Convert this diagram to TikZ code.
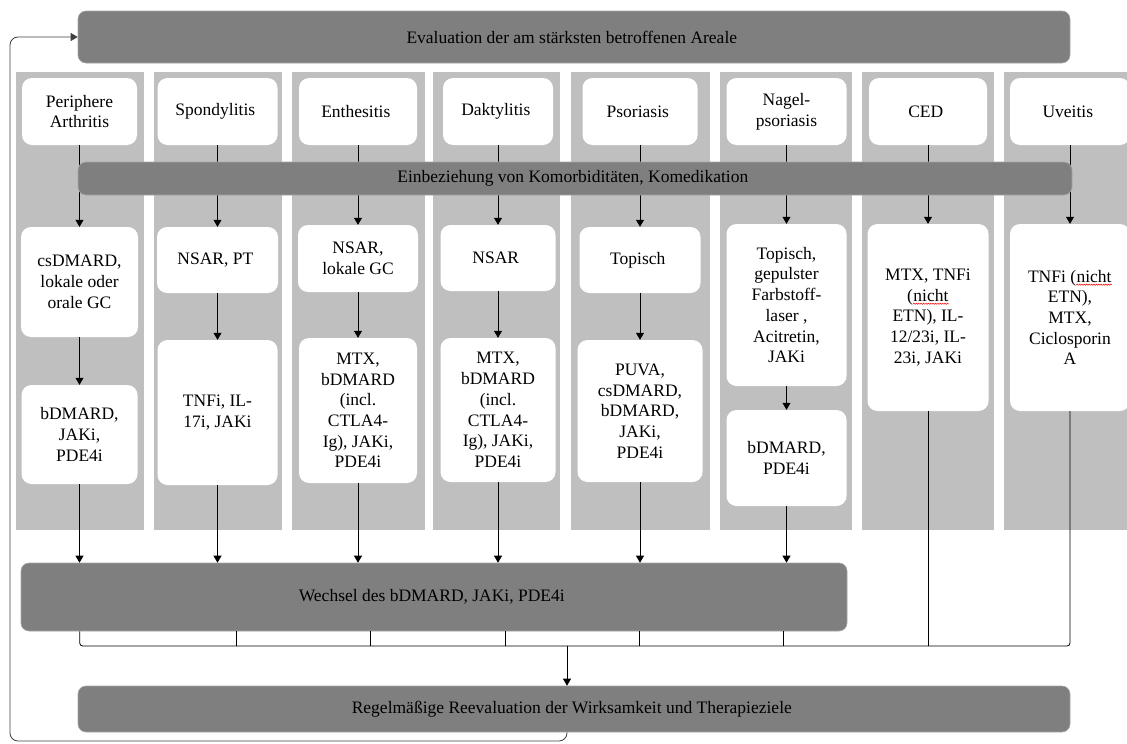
\documentclass[tikz,border=0pt]{standalone}
\usepackage{fontspec}
\setmainfont{Liberation Serif}
\usetikzlibrary{arrows.meta,calc,decorations.pathmorphing}

\definecolor{laneGray}{HTML}{BFBFBF}
\definecolor{barGray}{HTML}{7F7F7F}
\definecolor{edgeGray}{HTML}{A6A6A6}
\def\boxradius{10pt}
\def\barradius{8pt}
\def\laneheight{458pt}
\def\topicheight{67pt}
\newcommand{\spellmark}[1]{\tikz[baseline=(word.base), sharp corners]{%
    \node (word) [inner sep=0pt, minimum width=0pt, minimum height=0pt,%
        fill=none, draw=none, sharp corners] {#1};%
    \draw [red, line width=0.5pt, fill=none, sharp corners, decorate,%
        decoration={snake, amplitude=0.6pt, segment length=2.4pt}]%
        ([yshift=-2.5pt]word.base west) -- ([yshift=-2.5pt]word.base east);}}

\begin{document}
\begin{tikzpicture}[
            x=1pt, y=-1pt,
            font=\fontsize{17.5}{20.7}\selectfont,
            lane/.style={%
                rectangle, fill=laneGray, draw=none, inner sep=0pt,%
                minimum height=\laneheight%
            },
            topic/.style={%
                rectangle, rounded corners=\boxradius, fill=white, draw=none,%
                inner sep=0pt, align=center, minimum height=\topicheight%
            },
            therapy/.style={%
                rectangle, rounded corners=\boxradius, fill=white, draw=none,%
                inner sep=0pt, align=center%
            },
            banner/.style={%
                rectangle, rounded corners=\barradius, fill=barGray,%
                draw=edgeGray, line width=0.6pt, inner sep=0pt, align=center%
            },
            arrow/.style={line width=0.8pt,-{Triangle[width=8pt,length=7pt]}},
            link/.style={line width=0.8pt}
        ]

        \useasboundingbox (0,0) rectangle (1127,744);

        % Lanes
        \node (lane_1) [lane, minimum width=128pt] at (80,301) {};
        \node (lane_2) [lane, minimum width=128pt] at (218,301) {};
        \node (lane_3) [lane, minimum width=133pt] at (358.5,301) {};
        \node (lane_4) [lane, minimum width=127pt] at (496.5,301) {};
        \node (lane_5) [lane, minimum width=139pt] at (640.5,301) {};
        \node (lane_6) [lane, minimum width=132pt] at (786,301) {};
        \node (lane_7) [lane, minimum width=132pt] at (928,301) {};
        \node (lane_8) [lane, minimum width=136pt] at (1072,301) {};

        % Define nodes
        \node (topic_1) [topic, minimum width=115pt] at (79.5,111.5) {%
            Periphere\\Arthritis
        };
        \node (topic_2) [topic, minimum width=120pt] at (217.5,111.5) {%
            Spondylitis
        };
        \node (topic_3) [topic, minimum width=118pt] at (358,111.5) {%
            Enthesitis
        };
        \node (topic_4) [topic, minimum width=110pt] at (498,111.5) {%
            Daktylitis
        };
        \node (topic_5) [topic, minimum width=115pt] at (640,111.5) {%
            Psoriasis
        };
        \node (topic_6) [topic, minimum width=120pt] at (786.5,111.5) {%
            Nagel-\\psoriasis
        };
        \node (topic_7) [topic, minimum width=118pt] at (928,111.5) {%
            CED
        };
        \node (topic_8) [topic, minimum width=120pt] at (1070,111.5) {%
            Uveitis
        };

        \node (first_1) [therapy, minimum width=117pt, minimum height=110pt]
            at (79.5,282) {%
            csDMARD,\\lokale oder\\orale GC
        };
        \node (first_2) [therapy, minimum width=121pt, minimum height=66pt]
            at (217.5,260) {%
            NSAR, PT
        };
        \node (first_3) [therapy, minimum width=120pt, minimum height=67pt]
            at (358,258.5) {%
            NSAR,\\lokale GC
        };
        \node (first_4) [therapy, minimum width=115pt, minimum height=66pt]
            at (498,258) {%
            NSAR
        };
        \node (first_5) [therapy, minimum width=121pt, minimum height=66pt]
            at (640,260) {%
            Topisch
        };
        \node (first_6) [therapy, minimum width=120pt, minimum height=162pt]
            at (786.5,305) {%
            Topisch,\\gepulster\\Farbstoff-\\laser ,\\Acitretin,\\JAKi
        };
        \node (first_7) [therapy, minimum width=121pt, minimum height=187pt]
            at (928,317.5) {%
            MTX, TNFi\\(\spellmark{nicht}\\ETN), IL-\\12/23i, IL-\\23i, JAKi
        };
        \node (first_8) [therapy, minimum width=120pt, minimum height=187pt]
            at (1070,317.5) {%
            TNFi (\spellmark{nicht}\\ETN),\\MTX,\\Ciclosporin\\A
        };

        \node (second_1) [therapy, minimum width=116pt, minimum height=99pt]
            at (79.5,434.5) {%
            bDMARD,\\JAKi,\\PDE4i
        };
        \node (second_2) [therapy, minimum width=120pt, minimum height=145pt]
            at (217.5,412.5) {%
            TNFi, IL-\\17i, JAKi
        };
        \node (second_3) [therapy, minimum width=118pt, minimum height=145pt]
            at (358,410.5) {%
            MTX,\\bDMARD\\(incl.\\CTLA4-\\Ig), JAKi,\\PDE4i
        };
        \node (second_4) [therapy, minimum width=115pt, minimum height=144pt]
            at (498,410) {%
            MTX,\\bDMARD\\(incl.\\CTLA4-\\Ig), JAKi,\\PDE4i
        };
        \node (second_5) [therapy, minimum width=125pt, minimum height=142pt]
            at (640,411) {%
            PUVA,\\csDMARD,\\bDMARD,\\JAKi,\\PDE4i
        };
        \node (second_6) [therapy, minimum width=120pt, minimum height=96pt]
            at (786.5,458) {%
            bDMARD,\\PDE4i
        };

        \draw [arrow] (topic_1) -- (first_1);
        \draw [arrow] (topic_2) -- (first_2);
        \draw [arrow] (topic_3) -- (first_3);
        \draw [arrow] (topic_4) -- (first_4);
        \draw [arrow] (topic_5) -- (first_5);
        \draw [arrow] (topic_6) -- (first_6);
        \draw [arrow] (topic_7) -- (first_7);
        \draw [arrow] (topic_8) -- (first_8);

        \draw [arrow] (first_1) -- (second_1);
        \draw [arrow] (first_2) -- (second_2);
        \draw [arrow] (first_3) -- (second_3);
        \draw [arrow] (first_4) -- (second_4);
        \draw [arrow] (first_5) -- (second_5);
        \draw [arrow] (first_6) -- (second_6);

        % Banners
        \node (evalTop) [banner, minimum width=992pt, minimum height=52pt]
            at (574,37) {%
            Evaluation der am stärksten betroffenen Areale
        };
        \node (comorb) [banner, minimum width=994pt, minimum height=33pt]
            at (575,178.5) {%
            Einbeziehung von Komorbiditäten, Komedikation
        };
        \node (switchBox) [banner, minimum width=826pt, minimum height=68pt]
            at (434,597) {%
            Wechsel des bDMARD, JAKi, PDE4i
        };
        \node (reEval) [banner, minimum width=992pt, minimum height=46pt]
            at (574,709) {%
            Regelmäßige Reevaluation der Wirksamkeit und Therapieziele
        };

        \draw [arrow] (second_1) -- (second_1 |- switchBox.north);
        \draw [arrow] (second_2) -- (second_2 |- switchBox.north);
        \draw [arrow] (second_3) -- (second_3 |- switchBox.north);
        \draw [arrow] (second_4) -- (second_4 |- switchBox.north);
        \draw [arrow] (second_5) -- (second_5 |- switchBox.north);
        \draw [arrow] (second_6) -- (second_6 |- switchBox.north);

        \coordinate (join) at (567,646);
        \draw [link, rounded corners=3pt]
            ($(switchBox.south west)+(59,0)$) |- (join) -| (first_8.south);
        \draw [link] ($(switchBox.south west)+(216,0)$) -- ++(0,15);
        \draw [link] ($(switchBox.south west)+(350,0)$) -- ++(0,15);
        \draw [link] ($(switchBox.south west)+(485,0)$) -- ++(0,15);
        \draw [link] ($(switchBox.south west)+(619,0)$) -- ++(0,15);
        \draw [link] ($(switchBox.south west)+(763,0)$) -- ++(0,15);
        \draw [link] (first_7) -- (first_7.south |- join);

        \draw [arrow] (join) -- (join |- reEval.north);

        \coordinate (loopCorner) at (10,741);
        \draw [arrow, draw=black!75, rounded corners=8pt]
            (reEval.south -| join) |- (loopCorner) |- (evalTop.west);

        \end{tikzpicture}
\end{document}
